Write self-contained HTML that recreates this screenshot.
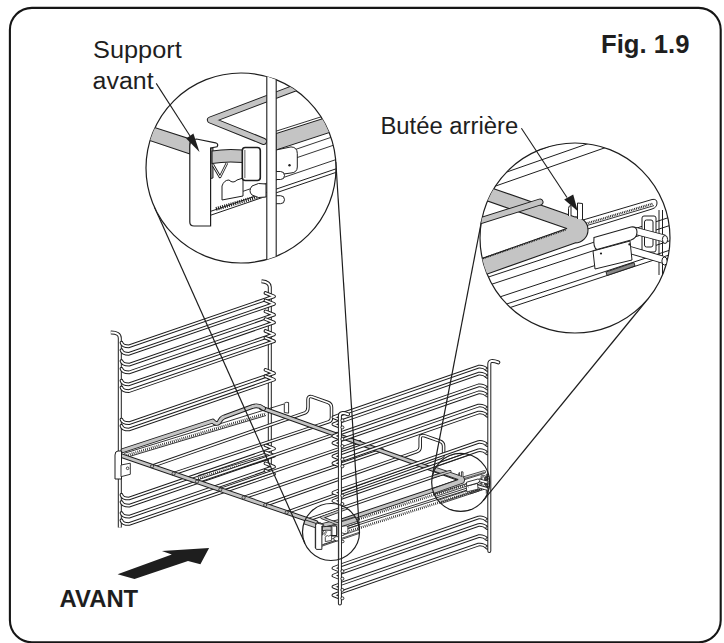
<!DOCTYPE html>
<html><head><meta charset="utf-8">
<style>
html,body{margin:0;padding:0;background:#fff;}
body{width:724px;height:643px;overflow:hidden;}
svg{display:block;}
text{font-family:"Liberation Sans",sans-serif;fill:#1e1e1e;}
</style></head>
<body>
<svg width="724" height="643" viewBox="0 0 724 643">
<defs>
<clipPath id="c1"><circle cx="241" cy="168" r="95"/></clipPath>
<clipPath id="c2"><circle cx="575" cy="238" r="95"/></clipPath>
<clipPath id="m1"><circle cx="331" cy="532" r="28.5"/></clipPath>
<clipPath id="m2"><circle cx="460.7" cy="482.4" r="29"/></clipPath>
</defs>
<g id="frame">
<rect x="9.9" y="7.85" width="710.8" height="634.4" rx="22" ry="22" fill="none" stroke="#161616" stroke-width="2.1"/>
</g>
<g id="leftrack">
<path d="M110.8,332.6 Q119.8,332.4 119.8,338 L119.8,527.6" fill="none" stroke="#1e1e1e" stroke-width="4.0" stroke-linecap="butt" stroke-linejoin="round"/>
<path d="M110.8,332.6 Q119.8,332.4 119.8,338 L119.8,527.6" fill="none" stroke="#fff" stroke-width="2.0" stroke-linecap="butt" stroke-linejoin="round"/>
<path d="M261.5,281.2 Q269.8,282 269.8,287 L269.8,470" fill="none" stroke="#1e1e1e" stroke-width="4.0" stroke-linecap="butt" stroke-linejoin="round"/>
<path d="M261.5,281.2 Q269.8,282 269.8,287 L269.8,470" fill="none" stroke="#fff" stroke-width="2.0" stroke-linecap="butt" stroke-linejoin="round"/>
<path d="M121.5,342.7 Q122.5,346.3 129.0,346.3 L274,296.4 L265.5,293.0" fill="none" stroke="#1e1e1e" stroke-width="3.7" stroke-linecap="round" stroke-linejoin="round"/>
<path d="M121.5,342.7 Q122.5,346.3 129.0,346.3 L274,296.4 L265.5,293.0" fill="none" stroke="#fff" stroke-width="1.7" stroke-linecap="round" stroke-linejoin="round"/>
<path d="M121.5,350.2 Q122.5,353.8 129.0,353.8 L274,303.9 L265.5,300.5" fill="none" stroke="#1e1e1e" stroke-width="3.7" stroke-linecap="round" stroke-linejoin="round"/>
<path d="M121.5,350.2 Q122.5,353.8 129.0,353.8 L274,303.9 L265.5,300.5" fill="none" stroke="#fff" stroke-width="1.7" stroke-linecap="round" stroke-linejoin="round"/>
<path d="M121.5,361.1 Q122.5,364.7 129.0,364.7 L274,314.8 L265.5,311.4" fill="none" stroke="#1e1e1e" stroke-width="3.7" stroke-linecap="round" stroke-linejoin="round"/>
<path d="M121.5,361.1 Q122.5,364.7 129.0,364.7 L274,314.8 L265.5,311.4" fill="none" stroke="#fff" stroke-width="1.7" stroke-linecap="round" stroke-linejoin="round"/>
<path d="M121.5,368.8 Q122.5,372.4 129.0,372.4 L274,322.5 L265.5,319.1" fill="none" stroke="#1e1e1e" stroke-width="3.7" stroke-linecap="round" stroke-linejoin="round"/>
<path d="M121.5,368.8 Q122.5,372.4 129.0,372.4 L274,322.5 L265.5,319.1" fill="none" stroke="#fff" stroke-width="1.7" stroke-linecap="round" stroke-linejoin="round"/>
<path d="M121.5,380.7 Q122.5,384.3 129.0,384.3 L274,334.4 L265.5,331.0" fill="none" stroke="#1e1e1e" stroke-width="3.7" stroke-linecap="round" stroke-linejoin="round"/>
<path d="M121.5,380.7 Q122.5,384.3 129.0,384.3 L274,334.4 L265.5,331.0" fill="none" stroke="#fff" stroke-width="1.7" stroke-linecap="round" stroke-linejoin="round"/>
<path d="M121.5,387.5 Q122.5,391.1 129.0,391.1 L274,341.2 L265.5,337.8" fill="none" stroke="#1e1e1e" stroke-width="3.7" stroke-linecap="round" stroke-linejoin="round"/>
<path d="M121.5,387.5 Q122.5,391.1 129.0,391.1 L274,341.2 L265.5,337.8" fill="none" stroke="#fff" stroke-width="1.7" stroke-linecap="round" stroke-linejoin="round"/>
<path d="M121.5,419.6 Q122.5,423.2 129.0,423.2 L274,373.3 L265.5,369.9" fill="none" stroke="#1e1e1e" stroke-width="3.7" stroke-linecap="round" stroke-linejoin="round"/>
<path d="M121.5,419.6 Q122.5,423.2 129.0,423.2 L274,373.3 L265.5,369.9" fill="none" stroke="#fff" stroke-width="1.7" stroke-linecap="round" stroke-linejoin="round"/>
<path d="M121.5,425.9 Q122.5,429.5 129.0,429.5 L274,379.6 L265.5,376.2" fill="none" stroke="#1e1e1e" stroke-width="3.7" stroke-linecap="round" stroke-linejoin="round"/>
<path d="M121.5,425.9 Q122.5,429.5 129.0,429.5 L274,379.6 L265.5,376.2" fill="none" stroke="#fff" stroke-width="1.7" stroke-linecap="round" stroke-linejoin="round"/>
<path d="M121.5,494.9 Q122.5,498.5 129.0,498.5 L274,448.6 L265.5,445.2" fill="none" stroke="#1e1e1e" stroke-width="3.7" stroke-linecap="round" stroke-linejoin="round"/>
<path d="M121.5,494.9 Q122.5,498.5 129.0,498.5 L274,448.6 L265.5,445.2" fill="none" stroke="#fff" stroke-width="1.7" stroke-linecap="round" stroke-linejoin="round"/>
<path d="M121.5,502.1 Q122.5,505.7 129.0,505.7 L274,455.8 L265.5,452.4" fill="none" stroke="#1e1e1e" stroke-width="3.7" stroke-linecap="round" stroke-linejoin="round"/>
<path d="M121.5,502.1 Q122.5,505.7 129.0,505.7 L274,455.8 L265.5,452.4" fill="none" stroke="#fff" stroke-width="1.7" stroke-linecap="round" stroke-linejoin="round"/>
<path d="M121.5,513.1 Q122.5,516.7 129.0,516.7 L274,466.8 L265.5,463.4" fill="none" stroke="#1e1e1e" stroke-width="3.7" stroke-linecap="round" stroke-linejoin="round"/>
<path d="M121.5,513.1 Q122.5,516.7 129.0,516.7 L274,466.8 L265.5,463.4" fill="none" stroke="#fff" stroke-width="1.7" stroke-linecap="round" stroke-linejoin="round"/>
<path d="M121.5,520.4 Q122.5,524.0 129.0,524.0 L274,474.1 L265.5,470.7" fill="none" stroke="#1e1e1e" stroke-width="3.7" stroke-linecap="round" stroke-linejoin="round"/>
<path d="M121.5,520.4 Q122.5,524.0 129.0,524.0 L274,474.1 L265.5,470.7" fill="none" stroke="#fff" stroke-width="1.7" stroke-linecap="round" stroke-linejoin="round"/>
</g>
<g id="shelf">
<line x1="126.0" y1="455.5" x2="266.0" y2="413.5" stroke="#1e1e1e" stroke-width="2.6" stroke-dasharray="0.8 1.2"/>
<line x1="126.0" y1="457.5" x2="266.0" y2="415.5" stroke="#1e1e1e" stroke-width="0.9"/>
<line x1="124.0" y1="453.4" x2="286.5" y2="403.2" stroke="#1e1e1e" stroke-width="0.9"/>
<path d="M284.3,404 L284.3,412.5 L288.6,413.2 L288.6,402.5 Q286.5,401.8 284.3,403.2" fill="#fff" stroke="#1e1e1e" stroke-width="0.9"/>
<line x1="198.0" y1="475.6" x2="267.0" y2="455.2" stroke="#1e1e1e" stroke-width="0.9"/>
<line x1="198.0" y1="478.2" x2="267.0" y2="457.8" stroke="#1e1e1e" stroke-width="2.6" stroke-dasharray="0.8 1.2"/>
<line x1="198.0" y1="480.6" x2="267.0" y2="460.2" stroke="#1e1e1e" stroke-width="0.9"/>
<line x1="340.0" y1="525.0" x2="488.0" y2="477.5" stroke="#1e1e1e" stroke-width="2.6" stroke-dasharray="0.8 1.2"/>
<line x1="340.0" y1="528.8" x2="488.0" y2="481.3" stroke="#1e1e1e" stroke-width="0.9"/>
<line x1="340.0" y1="530.8" x2="488.0" y2="483.3" stroke="#1e1e1e" stroke-width="0.9"/>
<line x1="340.0" y1="534.2" x2="488.0" y2="486.7" stroke="#1e1e1e" stroke-width="2.6" stroke-dasharray="0.8 1.2"/>
<path d="M152.1,466.2 L305.2,412.8 Q308,411.5 308,407 L308,399.5 Q308,396 311.5,396.6 L328,402.4 Q331.5,403.6 331.5,407.5 L331.5,417.5 Q331.5,421 328.7,421.8 L173.6,473.6" fill="none" stroke="#1e1e1e" stroke-width="3.5" stroke-linecap="round" stroke-linejoin="round"/>
<path d="M152.1,466.2 L305.2,412.8 Q308,411.5 308,407 L308,399.5 Q308,396 311.5,396.6 L328,402.4 Q331.5,403.6 331.5,407.5 L331.5,417.5 Q331.5,421 328.7,421.8 L173.6,473.6" fill="none" stroke="#fff" stroke-width="1.5999999999999999" stroke-linecap="round" stroke-linejoin="round"/>
<path d="M265.2,505.0 L417,451.6 Q420.2,450.5 420.2,447 L420.2,438.5 Q420.2,434.8 424,435.6 L440,441.2 Q443.6,442.6 443.6,446 L443.6,453.5 Q443.6,456.5 440.5,457.5 L286.7,512.4" fill="none" stroke="#1e1e1e" stroke-width="3.5" stroke-linecap="round" stroke-linejoin="round"/>
<path d="M265.2,505.0 L417,451.6 Q420.2,450.5 420.2,447 L420.2,438.5 Q420.2,434.8 424,435.6 L440,441.2 Q443.6,442.6 443.6,446 L443.6,453.5 Q443.6,456.5 440.5,457.5 L286.7,512.4" fill="none" stroke="#fff" stroke-width="1.5999999999999999" stroke-linecap="round" stroke-linejoin="round"/>
<path d="M197.0,481.6 L336.8,433.6" fill="none" stroke="#1e1e1e" stroke-width="3.5" stroke-linecap="round" stroke-linejoin="round"/>
<path d="M197.0,481.6 L336.8,433.6" fill="none" stroke="#fff" stroke-width="1.5999999999999999" stroke-linecap="round" stroke-linejoin="round"/>
<path d="M220.3,489.6 L359.7,441.8" fill="none" stroke="#1e1e1e" stroke-width="3.5" stroke-linecap="round" stroke-linejoin="round"/>
<path d="M220.3,489.6 L359.7,441.8" fill="none" stroke="#fff" stroke-width="1.5999999999999999" stroke-linecap="round" stroke-linejoin="round"/>
<path d="M243.6,497.6 L382.5,450.0" fill="none" stroke="#1e1e1e" stroke-width="3.5" stroke-linecap="round" stroke-linejoin="round"/>
<path d="M243.6,497.6 L382.5,450.0" fill="none" stroke="#fff" stroke-width="1.5999999999999999" stroke-linecap="round" stroke-linejoin="round"/>
<path d="M308.0,519.8 L445.6,472.6" fill="none" stroke="#1e1e1e" stroke-width="3.5" stroke-linecap="round" stroke-linejoin="round"/>
<path d="M308.0,519.8 L445.6,472.6" fill="none" stroke="#fff" stroke-width="1.5999999999999999" stroke-linecap="round" stroke-linejoin="round"/>
<path d="M261.5,408.0 L461.0,479.5" fill="none" stroke="#1e1e1e" stroke-width="4.8" stroke-linecap="round" stroke-linejoin="round"/>
<path d="M261.5,408.0 L461.0,479.5" fill="none" stroke="#c4c4c4" stroke-width="2.9" stroke-linecap="round" stroke-linejoin="round"/>
<path d="M123.0,450.5 L212.8,421 Q216,425 219,422.5 Q221,418 224,417 L252.5,406.5 Q258.5,404.5 263.5,408.5" fill="none" stroke="#1e1e1e" stroke-width="4.8" stroke-linecap="round" stroke-linejoin="round"/>
<path d="M123.0,450.5 L212.8,421 Q216,425 219,422.5 Q221,418 224,417 L252.5,406.5 Q258.5,404.5 263.5,408.5" fill="none" stroke="#c4c4c4" stroke-width="2.9" stroke-linecap="round" stroke-linejoin="round"/>
<path d="M322,525.5 L341,521 L459.0,481.5 Q464.0,479.5 461.0,478.5" fill="none" stroke="#1e1e1e" stroke-width="4.8" stroke-linecap="round" stroke-linejoin="round"/>
<path d="M322,525.5 L341,521 L459.0,481.5 Q464.0,479.5 461.0,478.5" fill="none" stroke="#c4c4c4" stroke-width="2.9" stroke-linecap="round" stroke-linejoin="round"/>
<path d="M121.0,455.5 L316.0,522.5" fill="none" stroke="#1e1e1e" stroke-width="4.8" stroke-linecap="round" stroke-linejoin="round"/>
<path d="M121.0,455.5 L316.0,522.5" fill="none" stroke="#c4c4c4" stroke-width="2.9" stroke-linecap="round" stroke-linejoin="round"/>
<circle cx="152.1" cy="466.2" r="1.6" fill="#c4c4c4" stroke="#1e1e1e" stroke-width="0.8"/>
<circle cx="173.6" cy="473.6" r="1.6" fill="#c4c4c4" stroke="#1e1e1e" stroke-width="0.8"/>
<circle cx="197.0" cy="481.6" r="1.6" fill="#c4c4c4" stroke="#1e1e1e" stroke-width="0.8"/>
<circle cx="220.3" cy="489.6" r="1.6" fill="#c4c4c4" stroke="#1e1e1e" stroke-width="0.8"/>
<circle cx="243.6" cy="497.6" r="1.6" fill="#c4c4c4" stroke="#1e1e1e" stroke-width="0.8"/>
<circle cx="265.2" cy="505.0" r="1.6" fill="#c4c4c4" stroke="#1e1e1e" stroke-width="0.8"/>
<circle cx="286.7" cy="512.4" r="1.6" fill="#c4c4c4" stroke="#1e1e1e" stroke-width="0.8"/>
<path d="M115,479 L115,455 Q115,451 118,451 L121.5,451 L121.5,479 Z" fill="#fff" stroke="#1e1e1e" stroke-width="1"/>
<path d="M121,465 L130.3,463.2 L130.3,474.3 L121,476.7 Z" fill="#fff" stroke="#1e1e1e" stroke-width="0.9"/>
<circle cx="127.6" cy="468.3" r="1.3" fill="none" stroke="#1e1e1e" stroke-width="0.8"/>
<path d="M315.3,548 L315.3,525 Q315.3,522.6 318,522.6 L321.1,523 L321.1,548 Z" fill="#fff" stroke="#1e1e1e" stroke-width="1"/>
</g>
<g id="rightrack">
<path d="M341,420.3 L333.4,417.3 L339,415.1 L478.5,366.7 Q483.5,366.1 487,369.6" fill="none" stroke="#1e1e1e" stroke-width="3.7" stroke-linecap="round" stroke-linejoin="round"/>
<path d="M341,420.3 L333.4,417.3 L339,415.1 L478.5,366.7 Q483.5,366.1 487,369.6" fill="none" stroke="#fff" stroke-width="1.7" stroke-linecap="round" stroke-linejoin="round"/>
<circle cx="487.3" cy="369.7" r="1.5" fill="#fff" stroke="#1e1e1e" stroke-width="0.9"/>
<path d="M341,427.3 L333.4,424.3 L339,422.1 L478.5,373.7 Q483.5,373.1 487,376.6" fill="none" stroke="#1e1e1e" stroke-width="3.7" stroke-linecap="round" stroke-linejoin="round"/>
<path d="M341,427.3 L333.4,424.3 L339,422.1 L478.5,373.7 Q483.5,373.1 487,376.6" fill="none" stroke="#fff" stroke-width="1.7" stroke-linecap="round" stroke-linejoin="round"/>
<circle cx="487.3" cy="376.7" r="1.5" fill="#fff" stroke="#1e1e1e" stroke-width="0.9"/>
<path d="M341,439.0 L333.4,436.0 L339,433.8 L478.5,385.4 Q483.5,384.8 487,388.3" fill="none" stroke="#1e1e1e" stroke-width="3.7" stroke-linecap="round" stroke-linejoin="round"/>
<path d="M341,439.0 L333.4,436.0 L339,433.8 L478.5,385.4 Q483.5,384.8 487,388.3" fill="none" stroke="#fff" stroke-width="1.7" stroke-linecap="round" stroke-linejoin="round"/>
<circle cx="487.3" cy="388.4" r="1.5" fill="#fff" stroke="#1e1e1e" stroke-width="0.9"/>
<path d="M341,446.0 L333.4,443.0 L339,440.8 L478.5,392.4 Q483.5,391.8 487,395.3" fill="none" stroke="#1e1e1e" stroke-width="3.7" stroke-linecap="round" stroke-linejoin="round"/>
<path d="M341,446.0 L333.4,443.0 L339,440.8 L478.5,392.4 Q483.5,391.8 487,395.3" fill="none" stroke="#fff" stroke-width="1.7" stroke-linecap="round" stroke-linejoin="round"/>
<circle cx="487.3" cy="395.4" r="1.5" fill="#fff" stroke="#1e1e1e" stroke-width="0.9"/>
<path d="M341,459.2 L333.4,456.2 L339,454.0 L478.5,405.6 Q483.5,405.0 487,408.5" fill="none" stroke="#1e1e1e" stroke-width="3.7" stroke-linecap="round" stroke-linejoin="round"/>
<path d="M341,459.2 L333.4,456.2 L339,454.0 L478.5,405.6 Q483.5,405.0 487,408.5" fill="none" stroke="#fff" stroke-width="1.7" stroke-linecap="round" stroke-linejoin="round"/>
<circle cx="487.3" cy="408.6" r="1.5" fill="#fff" stroke="#1e1e1e" stroke-width="0.9"/>
<path d="M341,466.2 L333.4,463.2 L339,461.0 L478.5,412.6 Q483.5,412.0 487,415.5" fill="none" stroke="#1e1e1e" stroke-width="3.7" stroke-linecap="round" stroke-linejoin="round"/>
<path d="M341,466.2 L333.4,463.2 L339,461.0 L478.5,412.6 Q483.5,412.0 487,415.5" fill="none" stroke="#fff" stroke-width="1.7" stroke-linecap="round" stroke-linejoin="round"/>
<circle cx="487.3" cy="415.6" r="1.5" fill="#fff" stroke="#1e1e1e" stroke-width="0.9"/>
<path d="M341,495.6 L333.4,492.6 L339,490.4 L478.5,442.0 Q483.5,441.4 487,444.9" fill="none" stroke="#1e1e1e" stroke-width="3.7" stroke-linecap="round" stroke-linejoin="round"/>
<path d="M341,495.6 L333.4,492.6 L339,490.4 L478.5,442.0 Q483.5,441.4 487,444.9" fill="none" stroke="#fff" stroke-width="1.7" stroke-linecap="round" stroke-linejoin="round"/>
<circle cx="487.3" cy="445.0" r="1.5" fill="#fff" stroke="#1e1e1e" stroke-width="0.9"/>
<path d="M341,503.9 L333.4,500.9 L339,498.7 L478.5,450.3 Q483.5,449.7 487,453.2" fill="none" stroke="#1e1e1e" stroke-width="3.7" stroke-linecap="round" stroke-linejoin="round"/>
<path d="M341,503.9 L333.4,500.9 L339,498.7 L478.5,450.3 Q483.5,449.7 487,453.2" fill="none" stroke="#fff" stroke-width="1.7" stroke-linecap="round" stroke-linejoin="round"/>
<circle cx="487.3" cy="453.3" r="1.5" fill="#fff" stroke="#1e1e1e" stroke-width="0.9"/>
<path d="M341,571.1 L333.4,568.1 L339,565.9 L478.5,517.5 Q483.5,516.9 487,520.4" fill="none" stroke="#1e1e1e" stroke-width="3.7" stroke-linecap="round" stroke-linejoin="round"/>
<path d="M341,571.1 L333.4,568.1 L339,565.9 L478.5,517.5 Q483.5,516.9 487,520.4" fill="none" stroke="#fff" stroke-width="1.7" stroke-linecap="round" stroke-linejoin="round"/>
<circle cx="487.3" cy="520.5" r="1.5" fill="#fff" stroke="#1e1e1e" stroke-width="0.9"/>
<path d="M341,578.6 L333.4,575.6 L339,573.4 L478.5,525.0 Q483.5,524.4 487,527.9" fill="none" stroke="#1e1e1e" stroke-width="3.7" stroke-linecap="round" stroke-linejoin="round"/>
<path d="M341,578.6 L333.4,575.6 L339,573.4 L478.5,525.0 Q483.5,524.4 487,527.9" fill="none" stroke="#fff" stroke-width="1.7" stroke-linecap="round" stroke-linejoin="round"/>
<circle cx="487.3" cy="528.0" r="1.5" fill="#fff" stroke="#1e1e1e" stroke-width="0.9"/>
<path d="M341,589.8 L333.4,586.8 L339,584.6 L478.5,536.2 Q483.5,535.6 487,539.1" fill="none" stroke="#1e1e1e" stroke-width="3.7" stroke-linecap="round" stroke-linejoin="round"/>
<path d="M341,589.8 L333.4,586.8 L339,584.6 L478.5,536.2 Q483.5,535.6 487,539.1" fill="none" stroke="#fff" stroke-width="1.7" stroke-linecap="round" stroke-linejoin="round"/>
<circle cx="487.3" cy="539.2" r="1.5" fill="#fff" stroke="#1e1e1e" stroke-width="0.9"/>
<path d="M341,598.2 L333.4,595.2 L339,593.0 L478.5,544.6 Q483.5,544.0 487,547.5" fill="none" stroke="#1e1e1e" stroke-width="3.7" stroke-linecap="round" stroke-linejoin="round"/>
<path d="M341,598.2 L333.4,595.2 L339,593.0 L478.5,544.6 Q483.5,544.0 487,547.5" fill="none" stroke="#fff" stroke-width="1.7" stroke-linecap="round" stroke-linejoin="round"/>
<circle cx="487.3" cy="547.6" r="1.5" fill="#fff" stroke="#1e1e1e" stroke-width="0.9"/>
<path d="M339.9,603.5 L339.9,416 Q339.9,411.2 348,414.3" fill="none" stroke="#1e1e1e" stroke-width="4.0" stroke-linecap="round" stroke-linejoin="round"/>
<path d="M339.9,603.5 L339.9,416 Q339.9,411.2 348,414.3" fill="none" stroke="#fff" stroke-width="2.0" stroke-linecap="round" stroke-linejoin="round"/>
<path d="M489.3,551 L489.3,364 Q489.3,359 498.3,362.4" fill="none" stroke="#1e1e1e" stroke-width="4.0" stroke-linecap="round" stroke-linejoin="round"/>
<path d="M489.3,551 L489.3,364 Q489.3,359 498.3,362.4" fill="none" stroke="#fff" stroke-width="2.0" stroke-linecap="round" stroke-linejoin="round"/>
<circle cx="342.4" cy="420.4" r="1.5" fill="#fff" stroke="#1e1e1e" stroke-width="0.9"/>
<circle cx="342.4" cy="427.4" r="1.5" fill="#fff" stroke="#1e1e1e" stroke-width="0.9"/>
<circle cx="342.4" cy="439.1" r="1.5" fill="#fff" stroke="#1e1e1e" stroke-width="0.9"/>
<circle cx="342.4" cy="446.1" r="1.5" fill="#fff" stroke="#1e1e1e" stroke-width="0.9"/>
<circle cx="342.4" cy="459.3" r="1.5" fill="#fff" stroke="#1e1e1e" stroke-width="0.9"/>
<circle cx="342.4" cy="466.3" r="1.5" fill="#fff" stroke="#1e1e1e" stroke-width="0.9"/>
<circle cx="342.4" cy="495.7" r="1.5" fill="#fff" stroke="#1e1e1e" stroke-width="0.9"/>
<circle cx="342.4" cy="504.0" r="1.5" fill="#fff" stroke="#1e1e1e" stroke-width="0.9"/>
<circle cx="342.4" cy="571.2" r="1.5" fill="#fff" stroke="#1e1e1e" stroke-width="0.9"/>
<circle cx="342.4" cy="578.7" r="1.5" fill="#fff" stroke="#1e1e1e" stroke-width="0.9"/>
<circle cx="342.4" cy="589.9" r="1.5" fill="#fff" stroke="#1e1e1e" stroke-width="0.9"/>
<circle cx="342.4" cy="598.3" r="1.5" fill="#fff" stroke="#1e1e1e" stroke-width="0.9"/>
</g>
<g clip-path="url(#m1)"><g transform="translate(331,532) scale(0.3) translate(-241,-168)"><line x1="290" y1="151.3" x2="345" y2="132.6" stroke="#1e1e1e" stroke-width="2.40"/>
<line x1="290" y1="160" x2="345" y2="141.3" stroke="#1e1e1e" stroke-width="2.40"/>
<line x1="243" y1="191.3" x2="345" y2="156.5" stroke="#1e1e1e" stroke-width="2.40"/>
<line x1="210.4" y1="211.4" x2="345" y2="165.8" stroke="#1e1e1e" stroke-width="2.67"/>
<line x1="210.4" y1="215.3" x2="345" y2="169.3" stroke="#1e1e1e" stroke-width="2.67"/>
<line x1="216" y1="209" x2="265" y2="194.5" stroke="#1e1e1e" stroke-width="3.80" stroke-dasharray="1.1 1.1"/>
<path d="M276,133.6 L345,111.6 L345,127.4 L276,150 Z" fill="#c4c4c4" stroke="#1e1e1e" stroke-width="2.67"/>
<line x1="276" y1="131.2" x2="345" y2="109.2" stroke="#1e1e1e" stroke-width="2.40"/>
<path d="M310,82.3 L210.5,120 L263.5,141.3" fill="none" stroke="#1e1e1e" stroke-width="9.87" stroke-linejoin="round" stroke-linecap="round"/>
<path d="M310,82.3 L210.5,120 L263.5,141.3" fill="none" stroke="#c4c4c4" stroke-width="5.20" stroke-linejoin="round" stroke-linecap="round"/>
<path d="M276,150 L291,146.9 Q297.3,147.2 297.3,153.5 L297.3,167 Q297.3,172.5 291,173 L276,175 Z" fill="#fff" stroke="#1e1e1e" stroke-width="2.67"/>
<circle cx="289.5" cy="165.2" r="1.2" fill="#1e1e1e"/>
<path d="M276,171.5 L280.5,171.5 A4,4 0 0 1 280.5,179.5 L276,179.5" fill="#fff" stroke="#1e1e1e" stroke-width="2.67"/>
<path d="M276,195.7 L280.5,195.7 A4,4 0 0 1 280.5,203.7 L276,203.7" fill="#fff" stroke="#1e1e1e" stroke-width="2.67"/>
<path d="M252,186 Q258,182 266,184 L266,197 Q258,199 252,195 Q248,191 252,186 Z" fill="#fff" stroke="#1e1e1e" stroke-width="2.67"/>
<rect x="266.8" y="60" width="9.4" height="220" fill="#fff" stroke="#1e1e1e" stroke-width="2.93"/>
<path d="M140,122.8 L190,139 L190,154 L140,137.2 Z" fill="#c4c4c4" stroke="#1e1e1e" stroke-width="2.93"/>
<path d="M208.5,148 L213,148 L213,178 L208.5,179 Z" fill="#9a9a9a" stroke="#1e1e1e" stroke-width="2.40"/>
<path d="M212,151 Q226,148.5 243,150 L243,162.5 Q226,161 212,163.5 Z" fill="#c4c4c4" stroke="#1e1e1e" stroke-width="2.93"/>
<path d="M213,165 L220,177 L227,163" fill="none" stroke="#1e1e1e" stroke-width="5.27" stroke-linejoin="round"/>
<path d="M213,165 L220,177 L227,163" fill="none" stroke="#fff" stroke-width="2.67" stroke-linejoin="round"/>
<path d="M222,200 L222,186 Q224,180 229,180 Q233,184 237,180 L243,178 L243,196 Z" fill="#fff" stroke="#1e1e1e" stroke-width="2.67"/>
<path d="M189.8,222 L189.8,146 Q190,139.5 196.5,139 L215.5,142.8 Q219,144 217,146.8 L210.6,148 L210.6,226 L194,226 Q189.8,226 189.8,222 Z" fill="#fff" stroke="#1e1e1e" stroke-width="3.20"/>
<rect x="242.3" y="147.5" width="18" height="33" rx="3" fill="#fff" stroke="#1e1e1e" stroke-width="4.27"/>
<line x1="244.8" y1="150" x2="244.8" y2="178" stroke="#9a9a9a" stroke-width="4.27"/></g></g>
<g clip-path="url(#m2)"><g transform="translate(460.7,482.4) scale(0.305) translate(-575,-238)"><line x1="470" y1="174.1" x2="680" y2="100.6" stroke="#1e1e1e" stroke-width="2.62"/>
<line x1="470" y1="184.9" x2="680" y2="111.4" stroke="#1e1e1e" stroke-width="2.62"/>
<line x1="470" y1="195" x2="680" y2="121.5" stroke="#1e1e1e" stroke-width="2.62"/>
<line x1="470" y1="283.1" x2="680" y2="213.8" stroke="#1e1e1e" stroke-width="2.62"/>
<line x1="470" y1="291.4" x2="680" y2="222.1" stroke="#1e1e1e" stroke-width="2.62"/>
<line x1="470" y1="306.8" x2="680" y2="237.4" stroke="#1e1e1e" stroke-width="2.62"/>
<line x1="470" y1="316.1" x2="680" y2="246.8" stroke="#1e1e1e" stroke-width="2.62"/>
<line x1="470" y1="320.8" x2="680" y2="251.4" stroke="#1e1e1e" stroke-width="2.62"/>
<path d="M583,220 L652,199.5 Q657,198.5 657,203 Q657,207.5 652,209 L586,229.5 Z" fill="#fff" stroke="#1e1e1e" stroke-width="2.62"/>
<line x1="586" y1="223.6" x2="653" y2="203.6" stroke="#1e1e1e" stroke-width="2.20" stroke-dasharray="0.9 0.9"/>
<line x1="586" y1="225.8" x2="654" y2="205.6" stroke="#1e1e1e" stroke-width="2.36"/>
<rect x="642" y="216" width="14" height="36" rx="2" fill="#fff" stroke="#1e1e1e" stroke-width="2.62"/>
<rect x="644.5" y="220" width="8.5" height="27" rx="2" fill="#fff" stroke="#1e1e1e" stroke-width="2.62"/>
<line x1="659" y1="210" x2="659" y2="275" stroke="#1e1e1e" stroke-width="2.62"/>
<line x1="662.5" y1="210" x2="662.5" y2="275" stroke="#1e1e1e" stroke-width="2.62"/>
<path d="M634,230.5 L664.5,238.5" stroke="#1e1e1e" stroke-width="10.60" stroke-linecap="butt"/>
<path d="M634,230.5 L664.5,238.5" stroke="#fff" stroke-width="6.00" stroke-linecap="butt"/>
<ellipse cx="665" cy="239.5" rx="2.6" ry="4" fill="#fff" stroke="#1e1e1e" stroke-width="2.62"/>
<path d="M630,250 L664,260" stroke="#1e1e1e" stroke-width="10.60" stroke-linecap="butt"/>
<path d="M630,250 L664,260" stroke="#fff" stroke-width="6.00" stroke-linecap="butt"/>
<ellipse cx="664.5" cy="261" rx="2.6" ry="4" fill="#fff" stroke="#1e1e1e" stroke-width="2.62"/>
<path d="M593,251 L630,241 L632,260 L595,269 Z" fill="#fff" stroke="#1e1e1e" stroke-width="2.62"/>
<circle cx="601" cy="253.5" r="1.1" fill="#1e1e1e"/><circle cx="629.4" cy="244.4" r="1.1" fill="#1e1e1e"/>
<path d="M594,237.5 L631,227 Q637,226 637,232 Q637,238 631,240 L597,249.5 Q593,248 594,237.5 Z" fill="#fff" stroke="#1e1e1e" stroke-width="2.89"/>
<path d="M606,272 L634,262.5 L635,266 L607,275.5 Z" fill="#888" stroke="#1e1e1e" stroke-width="2.36"/>
<path d="M465,178.8 L575,216.9 A13,13 0 0 1 575,242.9 L465,281.9 L465,264.5 L566.7,228.5 L465,193.2 Z" fill="#c4c4c4" stroke="#1e1e1e" stroke-width="2.89" stroke-linejoin="round"/>
<line x1="483" y1="258.4" x2="566" y2="229.6" stroke="#1e1e1e" stroke-width="1.80" stroke-dasharray="0.9 0.9"/>
<path d="M470,224 L540,202" stroke="#1e1e1e" stroke-width="9.60" stroke-linecap="round"/>
<path d="M470,224 L540,202" stroke="#c4c4c4" stroke-width="5.00" stroke-linecap="round"/>
<path d="M568.5,216 L568.5,208.5 Q568.5,205.5 571,205.5 L571,216" fill="#fff" stroke="#1e1e1e" stroke-width="2.62"/>
<path d="M577.5,219 L577.5,203 L582.5,203.5 L582.5,219" fill="#fff" stroke="#1e1e1e" stroke-width="2.62"/></g></g>
<g id="texts">
<text x="93" y="57.5" font-size="23.5" textLength="88.7" lengthAdjust="spacingAndGlyphs">Support</text>
<text x="92.6" y="89.3" font-size="23.5" textLength="61" lengthAdjust="spacingAndGlyphs">avant</text>
<text x="601" y="53.1" font-size="25.5" font-weight="bold" textLength="88.5" lengthAdjust="spacingAndGlyphs">Fig. 1.9</text>
<text x="380.4" y="133.8" font-size="23.5" textLength="137.8" lengthAdjust="spacingAndGlyphs">Butée arrière</text>
<text x="59.6" y="607.3" font-size="23" font-weight="bold" textLength="78.6" lengthAdjust="spacingAndGlyphs">AVANT</text>
</g>
<g id="arrow">
<polygon points="117.6,574.3 171.8,554.4 161.9,551.1 209.1,547.9 200.4,564.3 188,561.1 134.5,579" fill="#1e1e1e"/>
</g>
<g id="circles" fill="none" stroke="#1e1e1e" stroke-width="1.2">
<circle cx="331" cy="532" r="28.5"/>
<circle cx="460.7" cy="482.4" r="29"/>
<line x1="154.3" y1="206.8" x2="305" y2="543.6"/>
<line x1="335.8" y1="161.9" x2="359.4" y2="530.2"/>
<line x1="481.7" y1="220" x2="432.2" y2="476.9"/>
<line x1="648.6" y1="298" x2="483.2" y2="500.7"/>
<circle cx="241" cy="168" r="95" fill="#fff"/>
<circle cx="575" cy="238" r="95" fill="#fff"/>
</g>
<g clip-path="url(#c1)"><line x1="290" y1="151.3" x2="345" y2="132.6" stroke="#1e1e1e" stroke-width="0.9"/>
<line x1="290" y1="160" x2="345" y2="141.3" stroke="#1e1e1e" stroke-width="0.9"/>
<line x1="243" y1="191.3" x2="345" y2="156.5" stroke="#1e1e1e" stroke-width="0.9"/>
<line x1="210.4" y1="211.4" x2="345" y2="165.8" stroke="#1e1e1e" stroke-width="1.0"/>
<line x1="210.4" y1="215.3" x2="345" y2="169.3" stroke="#1e1e1e" stroke-width="1.0"/>
<line x1="216" y1="209" x2="265" y2="194.5" stroke="#1e1e1e" stroke-width="3.8" stroke-dasharray="1.1 1.1"/>
<path d="M276,133.6 L345,111.6 L345,127.4 L276,150 Z" fill="#c4c4c4" stroke="#1e1e1e" stroke-width="1"/>
<line x1="276" y1="131.2" x2="345" y2="109.2" stroke="#1e1e1e" stroke-width="0.9"/>
<path d="M310,82.3 L210.5,120 L263.5,141.3" fill="none" stroke="#1e1e1e" stroke-width="7.2" stroke-linejoin="round" stroke-linecap="round"/>
<path d="M310,82.3 L210.5,120 L263.5,141.3" fill="none" stroke="#c4c4c4" stroke-width="5.2" stroke-linejoin="round" stroke-linecap="round"/>
<path d="M276,150 L291,146.9 Q297.3,147.2 297.3,153.5 L297.3,167 Q297.3,172.5 291,173 L276,175 Z" fill="#fff" stroke="#1e1e1e" stroke-width="1"/>
<circle cx="289.5" cy="165.2" r="1.2" fill="#1e1e1e"/>
<path d="M276,171.5 L280.5,171.5 A4,4 0 0 1 280.5,179.5 L276,179.5" fill="#fff" stroke="#1e1e1e" stroke-width="1"/>
<path d="M276,195.7 L280.5,195.7 A4,4 0 0 1 280.5,203.7 L276,203.7" fill="#fff" stroke="#1e1e1e" stroke-width="1"/>
<path d="M252,186 Q258,182 266,184 L266,197 Q258,199 252,195 Q248,191 252,186 Z" fill="#fff" stroke="#1e1e1e" stroke-width="1"/>
<rect x="266.8" y="60" width="9.4" height="220" fill="#fff" stroke="#1e1e1e" stroke-width="1.1"/>
<path d="M140,122.8 L190,139 L190,154 L140,137.2 Z" fill="#c4c4c4" stroke="#1e1e1e" stroke-width="1.1"/>
<path d="M208.5,148 L213,148 L213,178 L208.5,179 Z" fill="#9a9a9a" stroke="#1e1e1e" stroke-width="0.9"/>
<path d="M212,151 Q226,148.5 243,150 L243,162.5 Q226,161 212,163.5 Z" fill="#c4c4c4" stroke="#1e1e1e" stroke-width="1.1"/>
<path d="M213,165 L220,177 L227,163" fill="none" stroke="#1e1e1e" stroke-width="2.6" stroke-linejoin="round"/>
<path d="M213,165 L220,177 L227,163" fill="none" stroke="#fff" stroke-width="1" stroke-linejoin="round"/>
<path d="M222,200 L222,186 Q224,180 229,180 Q233,184 237,180 L243,178 L243,196 Z" fill="#fff" stroke="#1e1e1e" stroke-width="1"/>
<path d="M189.8,222 L189.8,146 Q190,139.5 196.5,139 L215.5,142.8 Q219,144 217,146.8 L210.6,148 L210.6,226 L194,226 Q189.8,226 189.8,222 Z" fill="#fff" stroke="#1e1e1e" stroke-width="1.2"/>
<rect x="242.3" y="147.5" width="18" height="33" rx="3" fill="#fff" stroke="#1e1e1e" stroke-width="1.6"/>
<line x1="244.8" y1="150" x2="244.8" y2="178" stroke="#9a9a9a" stroke-width="1.6"/></g>
<line x1="156.2" y1="83.4" x2="191" y2="137.5" stroke="#1e1e1e" stroke-width="1.1"/>
<polygon points="199.5,152 186.2,138.4 193.4,133.6" fill="#1e1e1e"/>
<g clip-path="url(#c2)"><line x1="470" y1="174.1" x2="680" y2="100.6" stroke="#1e1e1e" stroke-width="1"/>
<line x1="470" y1="184.9" x2="680" y2="111.4" stroke="#1e1e1e" stroke-width="1"/>
<line x1="470" y1="195" x2="680" y2="121.5" stroke="#1e1e1e" stroke-width="1"/>
<line x1="470" y1="283.1" x2="680" y2="213.8" stroke="#1e1e1e" stroke-width="1"/>
<line x1="470" y1="291.4" x2="680" y2="222.1" stroke="#1e1e1e" stroke-width="1"/>
<line x1="470" y1="306.8" x2="680" y2="237.4" stroke="#1e1e1e" stroke-width="1"/>
<line x1="470" y1="316.1" x2="680" y2="246.8" stroke="#1e1e1e" stroke-width="1"/>
<line x1="470" y1="320.8" x2="680" y2="251.4" stroke="#1e1e1e" stroke-width="1"/>
<path d="M583,220 L652,199.5 Q657,198.5 657,203 Q657,207.5 652,209 L586,229.5 Z" fill="#fff" stroke="#1e1e1e" stroke-width="1"/>
<line x1="586" y1="223.6" x2="653" y2="203.6" stroke="#1e1e1e" stroke-width="2.2" stroke-dasharray="0.9 0.9"/>
<line x1="586" y1="225.8" x2="654" y2="205.6" stroke="#1e1e1e" stroke-width="0.9"/>
<rect x="642" y="216" width="14" height="36" rx="2" fill="#fff" stroke="#1e1e1e" stroke-width="1"/>
<rect x="644.5" y="220" width="8.5" height="27" rx="2" fill="#fff" stroke="#1e1e1e" stroke-width="1"/>
<line x1="659" y1="210" x2="659" y2="275" stroke="#1e1e1e" stroke-width="1"/>
<line x1="662.5" y1="210" x2="662.5" y2="275" stroke="#1e1e1e" stroke-width="1"/>
<path d="M634,230.5 L664.5,238.5" stroke="#1e1e1e" stroke-width="8" stroke-linecap="butt"/>
<path d="M634,230.5 L664.5,238.5" stroke="#fff" stroke-width="6" stroke-linecap="butt"/>
<ellipse cx="665" cy="239.5" rx="2.6" ry="4" fill="#fff" stroke="#1e1e1e" stroke-width="1"/>
<path d="M630,250 L664,260" stroke="#1e1e1e" stroke-width="8" stroke-linecap="butt"/>
<path d="M630,250 L664,260" stroke="#fff" stroke-width="6" stroke-linecap="butt"/>
<ellipse cx="664.5" cy="261" rx="2.6" ry="4" fill="#fff" stroke="#1e1e1e" stroke-width="1"/>
<path d="M593,251 L630,241 L632,260 L595,269 Z" fill="#fff" stroke="#1e1e1e" stroke-width="1"/>
<circle cx="601" cy="253.5" r="1.1" fill="#1e1e1e"/><circle cx="629.4" cy="244.4" r="1.1" fill="#1e1e1e"/>
<path d="M594,237.5 L631,227 Q637,226 637,232 Q637,238 631,240 L597,249.5 Q593,248 594,237.5 Z" fill="#fff" stroke="#1e1e1e" stroke-width="1.1"/>
<path d="M606,272 L634,262.5 L635,266 L607,275.5 Z" fill="#888" stroke="#1e1e1e" stroke-width="0.9"/>
<path d="M465,178.8 L575,216.9 A13,13 0 0 1 575,242.9 L465,281.9 L465,264.5 L566.7,228.5 L465,193.2 Z" fill="#c4c4c4" stroke="#1e1e1e" stroke-width="1.1" stroke-linejoin="round"/>
<line x1="483" y1="258.4" x2="566" y2="229.6" stroke="#1e1e1e" stroke-width="1.8" stroke-dasharray="0.9 0.9"/>
<path d="M470,224 L540,202" stroke="#1e1e1e" stroke-width="7" stroke-linecap="round"/>
<path d="M470,224 L540,202" stroke="#c4c4c4" stroke-width="5" stroke-linecap="round"/>
<path d="M568.5,216 L568.5,208.5 Q568.5,205.5 571,205.5 L571,216" fill="#fff" stroke="#1e1e1e" stroke-width="1"/>
<path d="M577.5,219 L577.5,203 L582.5,203.5 L582.5,219" fill="#fff" stroke="#1e1e1e" stroke-width="1"/></g>
<line x1="521.4" y1="128.2" x2="567" y2="197.5" stroke="#1e1e1e" stroke-width="1.1"/>
<polygon points="577.8,211.3 564.2,199.5 573.2,194.5" fill="#1e1e1e"/>
</svg>
</body></html>
